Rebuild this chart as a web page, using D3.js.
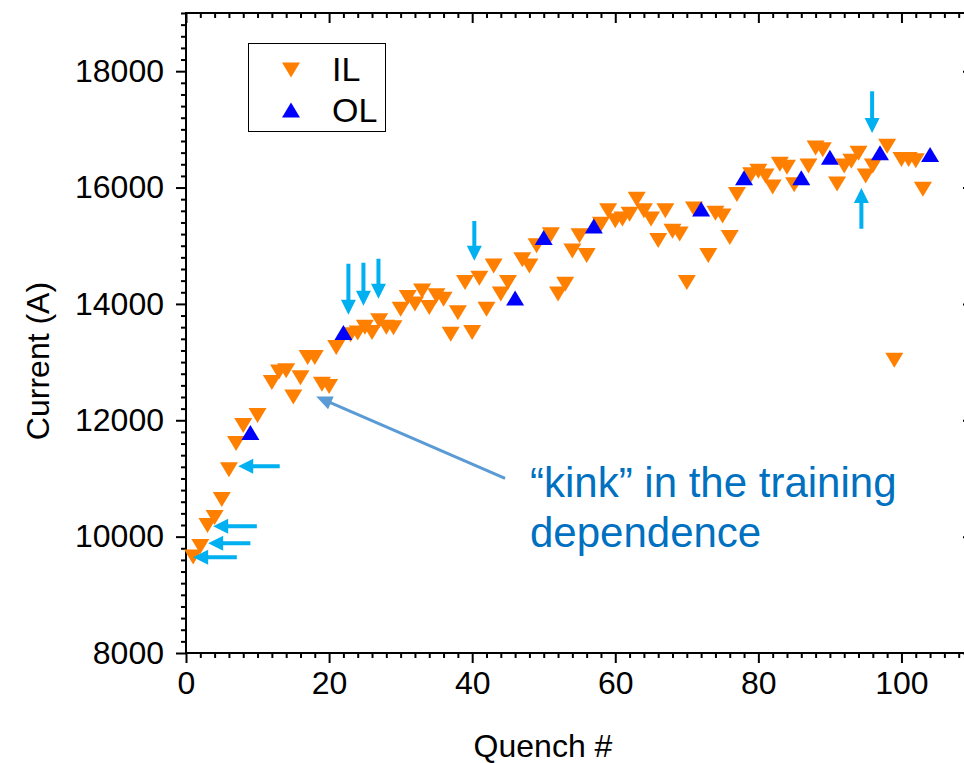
<!DOCTYPE html>
<html>
<head>
<meta charset="utf-8">
<script src="https://cdn.jsdelivr.net/npm/d3@7"></script>
<style>
  html, body { margin: 0; padding: 0; background: #fff; }
  svg { display: block; }
  text { font-family: Arial, "Liberation Sans", sans-serif; }
</style>
</head>
<body>
<svg id="chart" width="964" height="763"></svg>
<script>
// Quench training data: inner layer (IL) and outer layer (OL) quenches
const quenchIL = [1, 2, 3, 4, 5, 6, 7, 8, 10, 12, 13, 14, 15, 16, 17, 18, 19, 20, 21,
  23, 24, 25, 26, 27, 28, 29, 30, 31, 32, 33, 34, 35, 36, 37, 38, 39, 40, 41, 42, 43, 44, 45,
  47, 48, 49, 51, 52, 53, 54, 55, 56, 58, 59, 60, 61, 62, 63, 64, 65, 66, 67, 68, 69, 70, 71,
  73, 74, 75, 76, 77, 79, 80, 81, 82, 83, 84, 85, 87, 88, 89, 91, 92, 93, 94, 95, 96,
  98, 99, 100, 101, 102, 103];
const currentIL = [9650, 9830, 10190, 10330, 10640, 11150, 11600, 11910, 12080, 12650, 12830, 12850, 12400, 12730, 13080, 13080, 12620, 12580, 13250,
  13470, 13500, 13600, 13510, 13710, 13600, 13590, 13910, 14110, 14000, 14220, 13940, 14140, 14080, 13480, 13850, 14370, 13510, 14440, 13910, 14650, 14170, 14370,
  14760, 14650, 15000, 15190, 14170, 14340, 14910, 15170, 14830, 15370, 15600, 15430, 15460, 15540, 15800, 15600, 15460, 15090, 15600, 15250, 15200, 14370, 15630,
  14830, 15560, 15510, 15140, 15880, 16220, 16280, 16200, 16010, 16400, 16350, 16050, 16370, 16680, 16650, 16060, 16370, 16450, 16590, 16200, 16370,
  16710, 13030, 16480, 16480, 16460, 15970];

const quenchOL = [9, 22, 46, 50, 57, 72, 78, 86, 90, 97, 104];
const currentOL = [11790, 13510, 14100, 15140, 15340, 15630, 16170, 16170, 16520, 16600, 16570];

const xTickValues = [0, 20, 40, 60, 80, 100];
const yTickValues = [8000, 10000, 12000, 14000, 16000, 18000];

// Marker arrows highlighting individual quenches
const downArrowQ    = [22.7, 24.8, 26.9, 40.3, 95.9];
const downArrowTip  = [13815, 13969, 14089, 14741, 16937];
const downArrowTail = [14690, 14707, 14775, 15427, 17657];
const upArrowQ    = [94.4];
const upArrowTip  = [15993];
const upArrowTail = [15290];
const leftArrowI     = [11208, 10178, 9887, 9647];
const leftArrowTipQ  = [7.3, 3.8, 3.1, 1.0];
const leftArrowTailQ = [13.1, 9.9, 9.0, 7.1];

// "kink" callout
const kinkTip = [18.2, 12408];
const kinkTail = [44.6, 11000];
const kinkLines = ["\u201ckink\u201d in the training", "dependence"];

const svg = d3.select("#chart");
const plotL = 186, plotR = 973, plotT = 13, plotB = 653;

const x = d3.scaleLinear().domain([0, 110]).range([plotL, plotR]);
const y = d3.scaleLinear().domain([8000, 19000]).range([plotB, plotT]);

const ORANGE = "#ff7f00";
const BLUE = "#0000ff";
const CYAN = "#00b0f0";

// Axes: labelled outer ticks on bottom/left, mirrored inner ticks on top/right
const xMinor = d3.range(0, 111, 2).filter(v => v % 20 !== 0);
const yMinor = d3.range(8000, 19001, 200).filter(v => v % 2000 !== 0);

function styleAxis(g) {
  g.select(".domain").remove();
  g.selectAll("line").attr("stroke", "#000").attr("stroke-width", 2);
  g.selectAll("text").attr("font-size", 32).attr("fill", "#000");
}

svg.append("g").attr("transform", `translate(0,${plotB})`)
  .call(d3.axisBottom(x).tickValues(xTickValues).tickSize(10).tickPadding(8).tickFormat(d3.format("d")))
  .call(styleAxis);
svg.append("g").attr("transform", `translate(0,${plotB})`)
  .call(d3.axisBottom(x).tickValues(xMinor).tickSize(5).tickFormat(""))
  .call(styleAxis);

svg.append("g").attr("transform", `translate(${plotL},0)`)
  .call(d3.axisLeft(y).tickValues(yTickValues).tickSize(10).tickPadding(12).tickFormat(d3.format("d")))
  .call(styleAxis);
svg.append("g").attr("transform", `translate(${plotL},0)`)
  .call(d3.axisLeft(y).tickValues(yMinor).tickSize(5).tickFormat(""))
  .call(styleAxis);

svg.append("g").attr("transform", `translate(0,${plotT})`)
  .call(d3.axisTop(x).tickValues(xTickValues).tickSize(-10).tickFormat(""))
  .call(styleAxis);
svg.append("g").attr("transform", `translate(0,${plotT})`)
  .call(d3.axisTop(x).tickValues(xMinor).tickSize(-5).tickFormat(""))
  .call(styleAxis);
svg.append("g").attr("transform", `translate(${plotR},0)`)
  .call(d3.axisRight(y).tickValues(yTickValues).tickSize(-10).tickFormat(""))
  .call(styleAxis);
svg.append("g").attr("transform", `translate(${plotR},0)`)
  .call(d3.axisRight(y).tickValues(yMinor).tickSize(-5).tickFormat(""))
  .call(styleAxis);

// Frame
svg.append("rect")
  .attr("x", plotL).attr("y", plotT)
  .attr("width", plotR - plotL).attr("height", plotB - plotT)
  .attr("fill", "none").attr("stroke", "#000").attr("stroke-width", 2);

// Axis titles
svg.append("text")
  .attr("x", 543).attr("y", 757)
  .attr("text-anchor", "middle").attr("font-size", 32).attr("fill", "#000")
  .text("Quench #");
svg.append("text")
  .attr("transform", "translate(49,361) rotate(-90)")
  .attr("text-anchor", "middle").attr("font-size", 32).attr("fill", "#000")
  .text("Current (A)");

// Triangle markers (bounding box centred on the value)
const TW = 9, TH = 7.5;
const triDown = `M${-TW},${-TH}L${TW},${-TH}L0,${TH}Z`;
const triUp = `M${-TW},${TH}L${TW},${TH}L0,${-TH}Z`;

const ilData = quenchIL.map((q, i) => ({ q, c: currentIL[i] }));
const olData = quenchOL.map((q, i) => ({ q, c: currentOL[i] }));

svg.append("g").selectAll("path").data(ilData).join("path")
  .attr("d", triDown)
  .attr("transform", d => `translate(${x(d.q)},${y(d.c)})`)
  .attr("fill", ORANGE);

svg.append("g").selectAll("path").data(olData).join("path")
  .attr("d", triUp)
  .attr("transform", d => `translate(${x(d.q)},${y(d.c)})`)
  .attr("fill", BLUE);

// Block arrows
function blockArrow(x1, y1, x2, y2, color, shaftW, headL, headW) {
  const dx = x2 - x1, dy = y2 - y1;
  const len = Math.hypot(dx, dy);
  const ux = dx / len, uy = dy / len;
  const px = -uy, py = ux;
  const bx = x2 - ux * headL, by = y2 - uy * headL;
  const pts = [
    [x1 + px * shaftW / 2, y1 + py * shaftW / 2],
    [bx + px * shaftW / 2, by + py * shaftW / 2],
    [bx + px * headW / 2, by + py * headW / 2],
    [x2, y2],
    [bx - px * headW / 2, by - py * headW / 2],
    [bx - px * shaftW / 2, by - py * shaftW / 2],
    [x1 - px * shaftW / 2, y1 - py * shaftW / 2]
  ];
  svg.append("path")
    .attr("d", "M" + pts.map(p => p.join(",")).join("L") + "Z")
    .attr("fill", color);
}

downArrowQ.forEach((q, i) =>
  blockArrow(x(q), y(downArrowTail[i]), x(q), y(downArrowTip[i]), CYAN, 4, 15, 15));
upArrowQ.forEach((q, i) =>
  blockArrow(x(q), y(upArrowTail[i]), x(q), y(upArrowTip[i]), CYAN, 4, 15, 15));
leftArrowI.forEach((c, i) =>
  blockArrow(x(leftArrowTailQ[i]), y(c), x(leftArrowTipQ[i]), y(c), CYAN, 4, 15, 15));

// "kink" callout arrow and text
blockArrow(x(kinkTail[0]), y(kinkTail[1]), x(kinkTip[0]), y(kinkTip[1]), "#5b9bd5", 3, 16, 14);

svg.append("text")
  .attr("x", 530).attr("y", 497)
  .attr("font-size", 42).attr("fill", "#0070c0")
  .selectAll("tspan").data(kinkLines).join("tspan")
  .attr("x", 530).attr("dy", (d, i) => i === 0 ? 0 : 50)
  .text(d => d);

// Legend
const legend = svg.append("g");
legend.append("rect")
  .attr("x", 248.5).attr("y", 43.5).attr("width", 137).attr("height", 88)
  .attr("fill", "#fff").attr("stroke", "#000").attr("stroke-width", 1);
legend.append("path").attr("d", triDown).attr("transform", "translate(291,70)").attr("fill", ORANGE);
legend.append("path").attr("d", triUp).attr("transform", "translate(291,110)").attr("fill", BLUE);
legend.append("text").attr("x", 332).attr("y", 81).attr("font-size", 34).attr("fill", "#000").text("IL");
legend.append("text").attr("x", 332).attr("y", 122).attr("font-size", 34).attr("fill", "#000").text("OL");
</script>
</body>
</html>
